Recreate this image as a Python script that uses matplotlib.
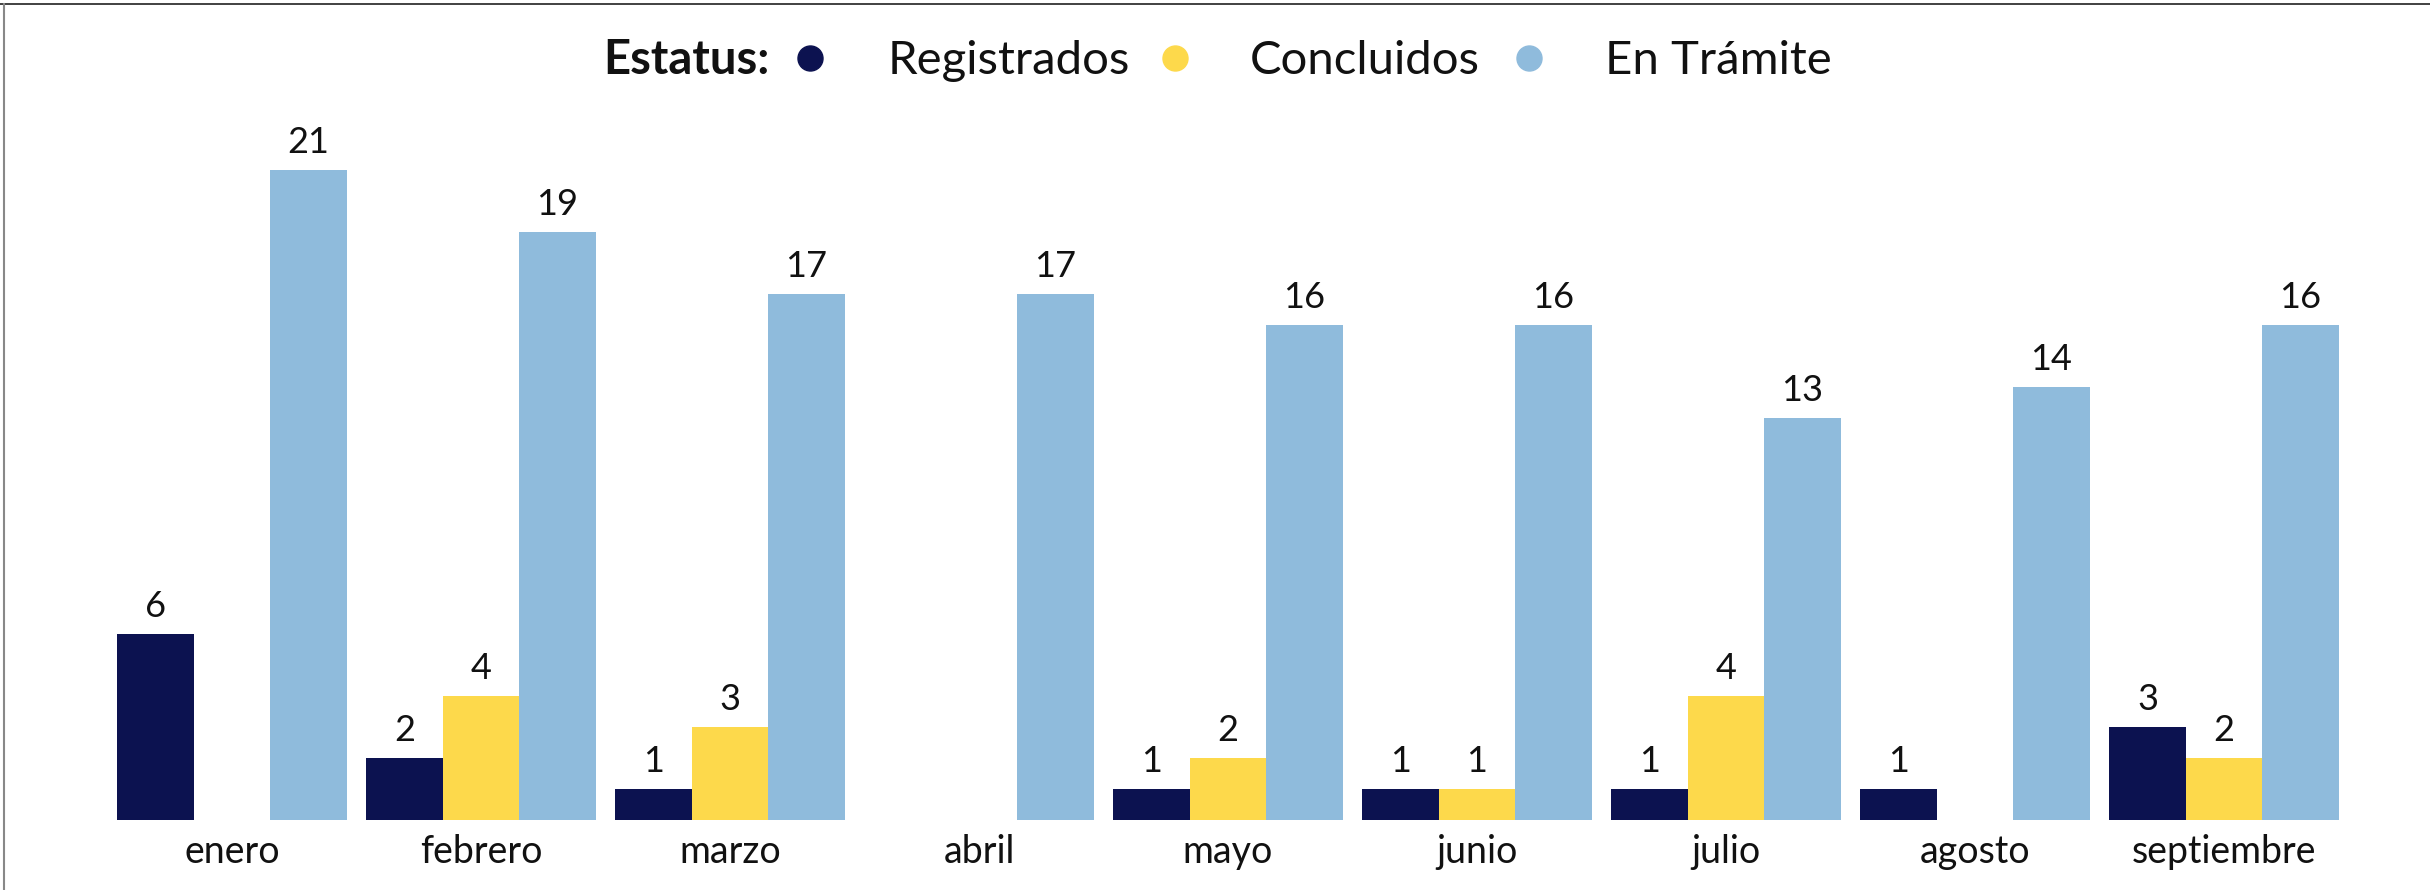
import matplotlib
matplotlib.use('Agg')
import matplotlib.pyplot as plt
from matplotlib.lines import Line2D
import numpy as np

plt.rcParams['font.family'] = ['Lato', 'DejaVu Sans']

meses = ['enero', 'febrero', 'marzo', 'abril', 'mayo', 'junio', 'julio', 'agosto', 'septiembre']
registrados = [6, 2, 1, 0, 1, 1, 1, 1, 3]
concluidos = [0, 4, 3, 0, 2, 1, 4, 0, 2]
en_tramite = [21, 19, 17, 17, 16, 16, 13, 14, 16]

series = [registrados, concluidos, en_tramite]
nombres = ['Registrados', 'Concluidos', 'En Trámite']
colores = ['#0c1250', '#fdd94b', '#8fbbdc']

W, H = 2430, 890
fig = plt.figure(figsize=(W / 100, H / 100), dpi=100)
ax = fig.add_axes([0, 70 / H, 1, 720 / H])

x = np.arange(len(meses))
w = 0.307
for k, (vals, col) in enumerate(zip(series, colores)):
    xs = x + (k - 1) * w
    for xi, v in zip(xs, vals):
        if v > 0:
            ax.bar(xi, v, width=w, color=col, linewidth=0)
            ax.text(xi, v + 0.35, str(v), ha='center', va='bottom', fontsize=26, color='#111111')

ax.set_xlim(-232 / 249, (W - 232) / 249)
ax.set_ylim(0, 720 / 30.95)
ax.set_xticks(x)
ax.set_xticklabels(meses, fontsize=27, color='#111111')
ax.tick_params(axis='x', length=0, pad=10)
ax.set_yticks([])
for s in ax.spines.values():
    s.set_visible(False)

# leyenda manual en la parte superior
yb = 1 - 74 / H
fig.text(603 / W, yb, 'Estatus:', fontsize=34, fontweight='bold', ha='left', va='baseline', color='#111111')
pos_texto = [888, 1250, 1605]
pos_punto = [810, 1175, 1529]
for nombre, col, pt, pp in zip(nombres, colores, pos_texto, pos_punto):
    fig.text(pt / W, yb, nombre, fontsize=34, ha='left', va='baseline', color='#111111')
    fig.add_artist(Line2D([pp / W], [1 - 58 / H], marker='o', markersize=18, color=col,
                          linestyle='none', transform=fig.transFigure))

# marco del recorte
fig.add_artist(Line2D([0, 1], [1 - 3.5 / H, 1 - 3.5 / H], color='#333333', linewidth=1.3, transform=fig.transFigure))
fig.add_artist(Line2D([3.5 / W, 3.5 / W], [0, 1 - 3.5 / H], color='#888888', linewidth=1.5, transform=fig.transFigure))

fig.savefig('out.png', dpi=100)
